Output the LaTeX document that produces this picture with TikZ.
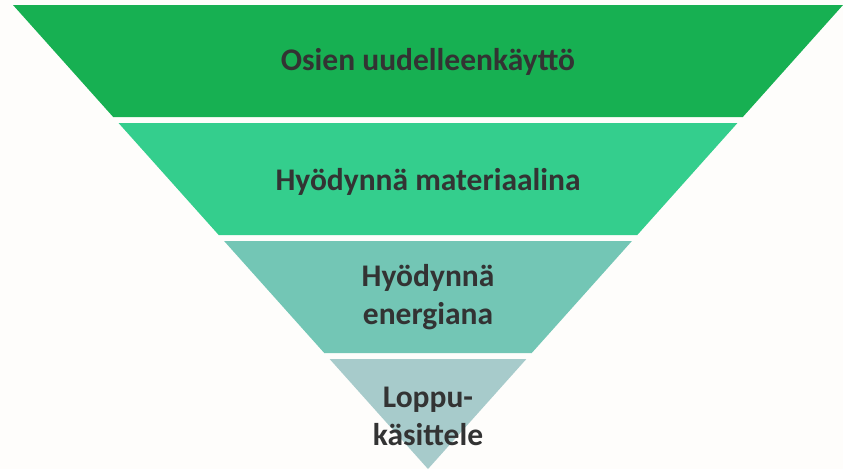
\documentclass[tikz,border=0pt]{standalone}
\usepackage{fontspec}
\setmainfont{Carlito}
\definecolor{bgc}{RGB}{254,253,251}
\definecolor{c1}{RGB}{23,176,82}
\definecolor{c2}{RGB}{52,206,141}
\definecolor{c3}{RGB}{115,198,181}
\definecolor{c4}{RGB}{167,203,203}
\definecolor{txt}{RGB}{51,51,51}
\begin{document}
\begin{tikzpicture}[x=1pt,y=-1pt,
  lbl/.style={text=txt,font=\bfseries\fontsize{31.5}{38}\selectfont,align=center,inner sep=0pt}]
\fill[bgc] (0,0) rectangle (843,469);
\useasboundingbox (0,0) rectangle (843,469);
\def\L#1{({428-0.8944*(469-#1)},#1)}
\def\R#1{({428+0.8944*(469-#1)},#1)}
\fill[c1] \L{5} -- \R{5} -- \R{117} -- \L{117} -- cycle;
\fill[c2] \L{123} -- \R{123} -- \R{235} -- \L{235} -- cycle;
\fill[c3] \L{241} -- \R{241} -- \R{353} -- \L{353} -- cycle;
\fill[c4] \L{359} -- \R{359} -- (428,469) -- cycle;
\node[lbl] (t1) at (428,62) {Osien uudelleenkäyttö};
\node[lbl] (t2) at (428,182) {Hyödynnä materiaalina};
\node[lbl] (t3) at (428,297) {Hyödynnä\\energiana};
\node[lbl] (t4) at (428,416) {Loppu-\\käsittele};
\end{tikzpicture}
\end{document}
